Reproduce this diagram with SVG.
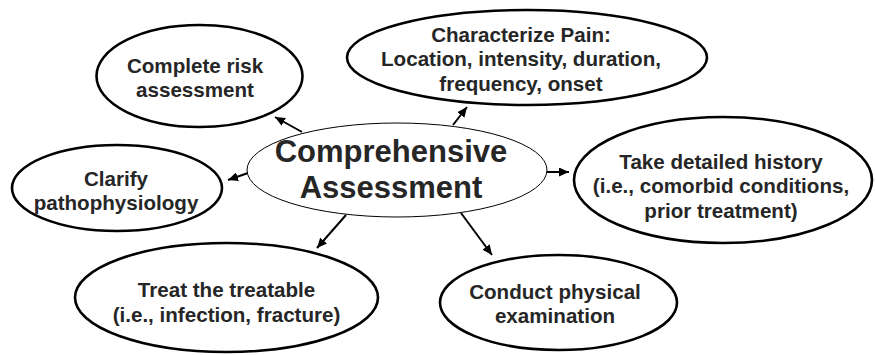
<svg xmlns="http://www.w3.org/2000/svg" width="875" height="355" viewBox="0 0 875 355">
<style>
.node ellipse{fill:#fff;stroke:#000;stroke-width:2.6}
#center ellipse{stroke-width:1}
text{font-family:"Liberation Sans",Arial,sans-serif;font-weight:bold;fill:#262626;text-anchor:middle;font-size:20.6px}
#center text{font-size:31px}
.conn line{stroke:#000;stroke-width:2;marker-end:url(#ah)}
</style>
<defs>
<marker id="ah" markerUnits="userSpaceOnUse" markerWidth="10" markerHeight="9" refX="10" refY="4.5" orient="auto">
<path d="M0,0 L10,4.5 L0,9 z" fill="#000"/>
</marker>
</defs>
<rect width="875" height="355" fill="#fff"/>
<g class="conn">
<line x1="302" y1="132" x2="275" y2="117"/>
<line x1="248" y1="173" x2="228" y2="180"/>
<line x1="453" y1="125" x2="467" y2="107"/>
<line x1="547" y1="172" x2="569" y2="172"/>
<line x1="346" y1="215" x2="317" y2="248"/>
<line x1="461" y1="213" x2="492" y2="255"/>
</g>
<g id="center" class="node">
<ellipse cx="397" cy="170" rx="150" ry="47"/>
<text x="391" y="162">Comprehensive</text>
<text x="391" y="198">Assessment</text>
</g>
<g id="risk" class="node">
<ellipse cx="199.5" cy="76" rx="103" ry="51"/>
<text x="195" y="72.5">Complete risk</text>
<text x="195" y="97">assessment</text>
</g>
<g id="pain" class="node">
<ellipse cx="527" cy="57.5" rx="180" ry="47.5"/>
<text x="521" y="41.5">Characterize Pain:</text>
<text x="521" y="66">Location, intensity, duration,</text>
<text x="521" y="90.5">frequency, onset</text>
</g>
<g id="history" class="node">
<ellipse cx="723" cy="180" rx="149" ry="63"/>
<text x="721" y="168.5">Take detailed history</text>
<text x="721" y="193">(i.e., comorbid conditions,</text>
<text x="721" y="217.5">prior treatment)</text>
</g>
<g id="clarify" class="node">
<ellipse cx="117" cy="188" rx="105" ry="43"/>
<text x="116" y="186">Clarify</text>
<text x="116" y="210">pathophysiology</text>
</g>
<g id="treat" class="node">
<ellipse cx="226.5" cy="297.5" rx="151.5" ry="54.5"/>
<text x="226.5" y="297">Treat the treatable</text>
<text x="226.5" y="321.5">(i.e., infection, fracture)</text>
</g>
<g id="exam" class="node">
<ellipse cx="558.5" cy="302.5" rx="118.5" ry="47.5"/>
<text x="555" y="298.5">Conduct physical</text>
<text x="555" y="322.5">examination</text>
</g>
</svg>
